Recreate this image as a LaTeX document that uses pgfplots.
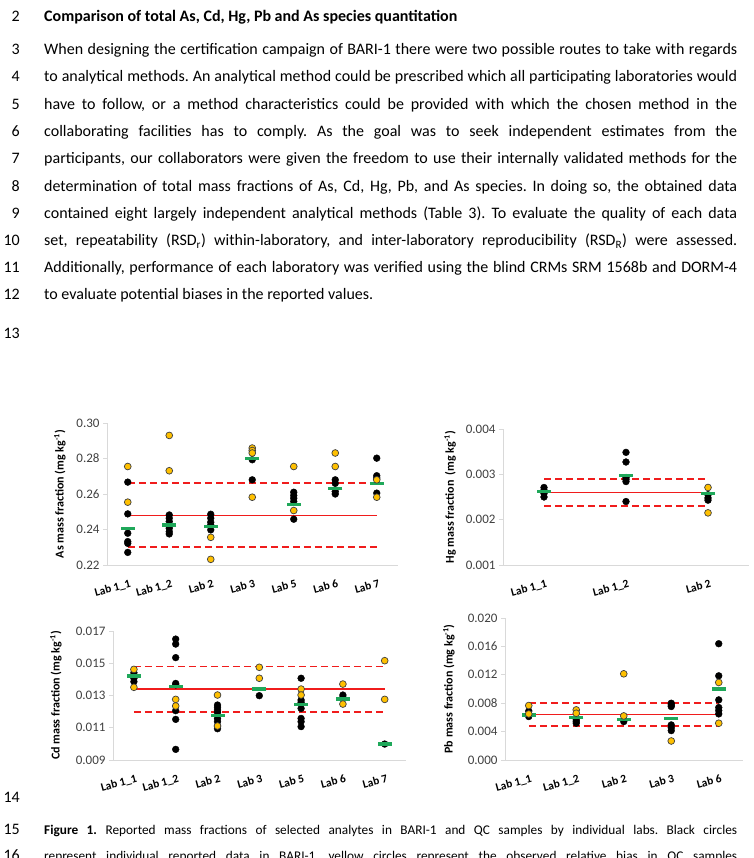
\documentclass[border=0pt]{standalone}
\usepackage{pgfplots}
\pgfplotsset{compat=1.18}
\usepackage{fontspec}
\setmainfont{Carlito}
\frenchspacing
\definecolor{gold}{HTML}{FFC000}
\definecolor{mgreen}{HTML}{1FA85A}
\definecolor{axgray}{HTML}{D9D9D9}
\definecolor{tickgray}{HTML}{404040}
\definecolor{mred}{HTML}{F01C1C}
\newcommand{\bodyfont}{\fontsize{16}{19}\selectfont}
\newcommand{\capfont}{\fontsize{13.3}{16}\selectfont}
\newcommand{\numl}[2]{\node[anchor=base east, inner sep=0pt, font=\bodyfont] at (20pt,-#1pt) {#2};}
\newcommand{\jline}[2]{\node[anchor=base west, inner sep=0pt, font=\bodyfont] at (44pt,-#1pt) {\makebox[693pt][s]{#2}};}
\pgfplotsset{
  labaxis/.style={
    scale only axis, anchor=south west,
    axis x line*=bottom, axis y line*=left,
    axis line style={draw=axgray, line width=0.9pt, -},
    xtick style={draw=none},
    ytick style={draw=axgray, line width=0.9pt},
    tick align=outside, major tick length=4pt,
    scaled y ticks=false,
    yticklabel style={font=\fontsize{13}{13}\selectfont, text=tickgray},
    xticklabel style={font=\bfseries\fontsize{11.5}{11.5}\selectfont, rotate=15, anchor=north east, inner sep=1pt, yshift=-9pt},
    clip=false,
  },
  blackpts/.style={only marks, mark=*, mark size=3.4pt, mark options={fill=black, draw=black}},
  goldpts/.style={only marks, mark=*, mark size=3.4pt, mark options={fill=gold, draw=black!75, line width=0.7pt}},
  meanbar/.style={only marks, mark=-, mark size=7pt, mark options={draw=mgreen, line width=3.3pt}},
  redsolid/.style={draw=mred, line width=1.4pt, mark=none},
  reddash/.style={draw=mred, line width=1.8pt, dash pattern=on 7pt off 4pt, mark=none},
}
\begin{document}
\begin{tikzpicture}
\path[use as bounding box] (0,0) rectangle (753pt,-858pt);
% ---------- text ----------
\numl{22}{2}
\node[anchor=base west, inner sep=0pt, font=\bodyfont\bfseries] at (44pt,-22pt) {Comparison of total As, Cd, Hg, Pb and As species quantitation};
\numl{55}{3}\jline{55}{When designing the certification campaign of BARI-1 there were two possible routes to take with regards}
\numl{82}{4}\jline{82}{to analytical methods. An analytical method could be prescribed which all participating laboratories would}
\numl{110}{5}\jline{110}{have to follow, or a method characteristics could be provided with which the chosen method in the}
\numl{137}{6}\jline{137}{collaborating facilities has to comply. As the goal was to seek independent estimates from the}
\numl{164}{7}\jline{164}{participants, our collaborators were given the freedom to use their internally validated methods for the}
\numl{191.5}{8}\jline{191.5}{determination of total mass fractions of As, Cd, Hg, Pb, and As species. In doing so, the obtained data}
\numl{218.5}{9}\jline{218.5}{contained eight largely independent analytical methods (Table 3). To evaluate the quality of each data}
\numl{245.5}{10}\jline{245.5}{set, repeatability (RSD\textsubscript{r}) within-laboratory, and inter-laboratory reproducibility (RSD\textsubscript{R}) were assessed.}
\numl{272.5}{11}\jline{272.5}{Additionally, performance of each laboratory was verified using the blind CRMs SRM 1568b and DORM-4}
\numl{299.5}{12}
\node[anchor=base west, inner sep=0pt, font=\bodyfont] at (44pt,-299.5pt) {to evaluate potential biases in the reported values.};
\numl{338}{13}
\numl{802}{14}
\numl{834}{15}
\node[anchor=base west, inner sep=0pt, font=\capfont] at (44pt,-834pt) {\makebox[693pt][s]{\textbf{Figure 1.} Reported mass fractions of selected analytes in BARI-1 and QC samples by individual labs. Black circles}};
\numl{860}{16}
\node[anchor=base west, inner sep=0pt, font=\capfont] at (44pt,-860pt) {\makebox[693pt][s]{represent individual reported data in BARI-1, yellow circles represent the observed relative bias in QC samples}};
% ---------- As ----------
\begin{axis}[labaxis, at={(107pt,-565pt)}, width=290.5pt, height=142pt,
  xmin=0.5, xmax=7.5, ymin=0.22, ymax=0.30,
  xtick={1,2,3,4,5,6,7}, xticklabels={Lab 1\_1,Lab 1\_2,Lab 2,Lab 3,Lab 5,Lab 6,Lab 7},
  ytick={0.22,0.24,0.26,0.28,0.30}, yticklabels={0.22,0.24,0.26,0.28,0.30},
  ylabel={As mass fraction (mg kg\textsuperscript{-1})},
  ylabel style={font=\bfseries\fontsize{12}{12}\selectfont, at={(axis description cs:-0.162,0.5)}, anchor=center}]
\addplot[redsolid] coordinates {(1,0.248) (7,0.248)};
\addplot[reddash] coordinates {(1,0.266) (7,0.266)};
\addplot[reddash] coordinates {(1,0.230) (7,0.230)};
\addplot[blackpts] coordinates {
(1,0.2667) (1,0.2488) (1,0.2379) (1,0.2332) (1,0.2322) (1,0.2271)
(2,0.2482) (2,0.2464) (2,0.2445) (2,0.2420) (2,0.2407) (2,0.2388) (2,0.2375)
(3,0.2486) (3,0.2464) (3,0.2441) (3,0.2425) (3,0.2398)
(4,0.2793) (4,0.2680)
(5,0.2610) (5,0.2592) (5,0.2576) (5,0.2558) (5,0.2458)
(6,0.2680) (6,0.2660) (6,0.2614) (6,0.2600)
(7,0.2802) (7,0.2703) (7,0.2690) (7,0.2605)};
\addplot[meanbar] coordinates {(1,0.2407) (2,0.2426) (3,0.2416) (4,0.2799) (5,0.2539) (6,0.2633) (7,0.2661)};
\addplot[goldpts] coordinates {
(1,0.2755) (1,0.2554) (2,0.2930) (2,0.2731) (3,0.2356) (3,0.2232)
(4,0.2859) (4,0.2845) (4,0.2831) (4,0.2582) (5,0.2755) (5,0.2507)
(6,0.2831) (6,0.2755) (7,0.2680) (7,0.2582)};
\end{axis}
% ---------- Hg ----------
\begin{axis}[labaxis, at={(503pt,-565pt)}, width=246pt, height=136pt,
  xmin=0.5, xmax=3.5, ymin=0.001, ymax=0.004,
  xtick={1,2,3}, xticklabels={Lab 1\_1,Lab 1\_2,Lab 2},
  ytick={0.001,0.002,0.003,0.004}, yticklabels={0.001,0.002,0.003,0.004},
  ylabel={Hg mass fraction~ (mg kg\textsuperscript{-1})},
  ylabel style={font=\bfseries\fontsize{12}{12}\selectfont, at={(axis description cs:-0.215,0.5)}, anchor=center}]
\addplot[redsolid] coordinates {(1,0.0026) (3,0.0026)};
\addplot[reddash] coordinates {(1,0.0029) (3,0.0029)};
\addplot[reddash] coordinates {(1,0.0023) (3,0.0023)};
\addplot[blackpts] coordinates {
(1,0.00271) (1,0.00265) (1,0.00258) (1,0.00250)
(2,0.003485) (2,0.003272) (2,0.00293) (2,0.00289) (2,0.00284) (2,0.00240)
(3,0.00255) (3,0.00248) (3,0.00243)};
\addplot[meanbar] coordinates {(1,0.00262) (2,0.00298) (3,0.00258)};
\addplot[goldpts] coordinates {(3,0.00271) (3,0.00215)};
\end{axis}
% ---------- Cd ----------
\begin{axis}[labaxis, at={(113pt,-760pt)}, width=292.6pt, height=129pt,
  xmin=0.5, xmax=7.5, ymin=0.009, ymax=0.017,
  xtick={1,2,3,4,5,6,7}, xticklabels={Lab 1\_1,Lab 1\_2,Lab 2,Lab 3,Lab 5,Lab 6,Lab 7},
  ytick={0.009,0.011,0.013,0.015,0.017}, yticklabels={0.009,0.011,0.013,0.015,0.017},
  ylabel={Cd mass fraction (mg kg\textsuperscript{-1})},
  ylabel style={font=\bfseries\fontsize{12}{12}\selectfont, at={(axis description cs:-0.195,0.5)}, anchor=center}]
\addplot[redsolid] coordinates {(1,0.0134) (7,0.0134)};
\addplot[reddash] coordinates {(1,0.0148) (7,0.0148)};
\addplot[reddash] coordinates {(1,0.0120) (7,0.0120)};
\addplot[blackpts] coordinates {
(1,0.01441) (1,0.01407) (1,0.01386)
(2,0.01650) (2,0.01619) (2,0.01535) (2,0.01375) (2,0.01366) (2,0.01206) (2,0.01152) (2,0.00966)
(3,0.01241) (3,0.01227) (3,0.01210) (3,0.01194) (3,0.01158) (3,0.01138) (3,0.01111) (3,0.01094)
(4,0.01299)
(5,0.01407) (5,0.01272) (5,0.01258) (5,0.01220) (5,0.01158) (5,0.01138) (5,0.01107)
(6,0.01303) (6,0.01289)
(7,0.00999)};
\addplot[meanbar] coordinates {(1,0.01421) (2,0.01355) (3,0.01177) (4,0.01340) (5,0.01245) (6,0.01278) (7,0.01000)};
\addplot[goldpts] coordinates {
(1,0.01462) (1,0.01351) (2,0.01276) (2,0.01235) (3,0.01303) (3,0.01111)
(4,0.01475) (4,0.01407) (5,0.01340) (5,0.01303) (6,0.01371) (6,0.01247)
(7,0.01516) (7,0.01276)};
\end{axis}
% ---------- Pb ----------
\begin{axis}[labaxis, at={(505pt,-760pt)}, width=237.5pt, height=142pt,
  xmin=0.5, xmax=5.5, ymin=0, ymax=0.020,
  xtick={1,2,3,4,5}, xticklabels={Lab 1\_1,Lab 1\_2,Lab 2,Lab 3,Lab 6},
  ytick={0,0.004,0.008,0.012,0.016,0.020}, yticklabels={0.000,0.004,0.008,0.012,0.016,0.020},
  ylabel={Pb mass fraction (mg kg\textsuperscript{-1})},
  ylabel style={font=\bfseries\fontsize{12}{12}\selectfont, at={(axis description cs:-0.236,0.5)}, anchor=center}]
\addplot[redsolid] coordinates {(1,0.0064) (5,0.0064)};
\addplot[reddash] coordinates {(1,0.0080) (5,0.0080)};
\addplot[reddash] coordinates {(1,0.0048) (5,0.0048)};
\addplot[blackpts] coordinates {
(1,0.00690) (1,0.00612)
(2,0.00565) (2,0.00540) (2,0.00518)
(3,0.00541)
(4,0.00800) (4,0.00775) (4,0.00753) (4,0.00494) (4,0.00455) (4,0.00414)
(5,0.01638) (5,0.01186) (5,0.00847) (5,0.00739) (5,0.00696) (5,0.00649)};
\addplot[meanbar] coordinates {(1,0.00635) (2,0.00602) (3,0.00574) (4,0.00588) (5,0.01002)};
\addplot[goldpts] coordinates {
(1,0.00767) (1,0.00649) (2,0.00706) (2,0.00659) (3,0.01214) (3,0.00621)
(4,0.00268) (5,0.01092) (5,0.00518)};
\end{axis}
\end{tikzpicture}
\end{document}
